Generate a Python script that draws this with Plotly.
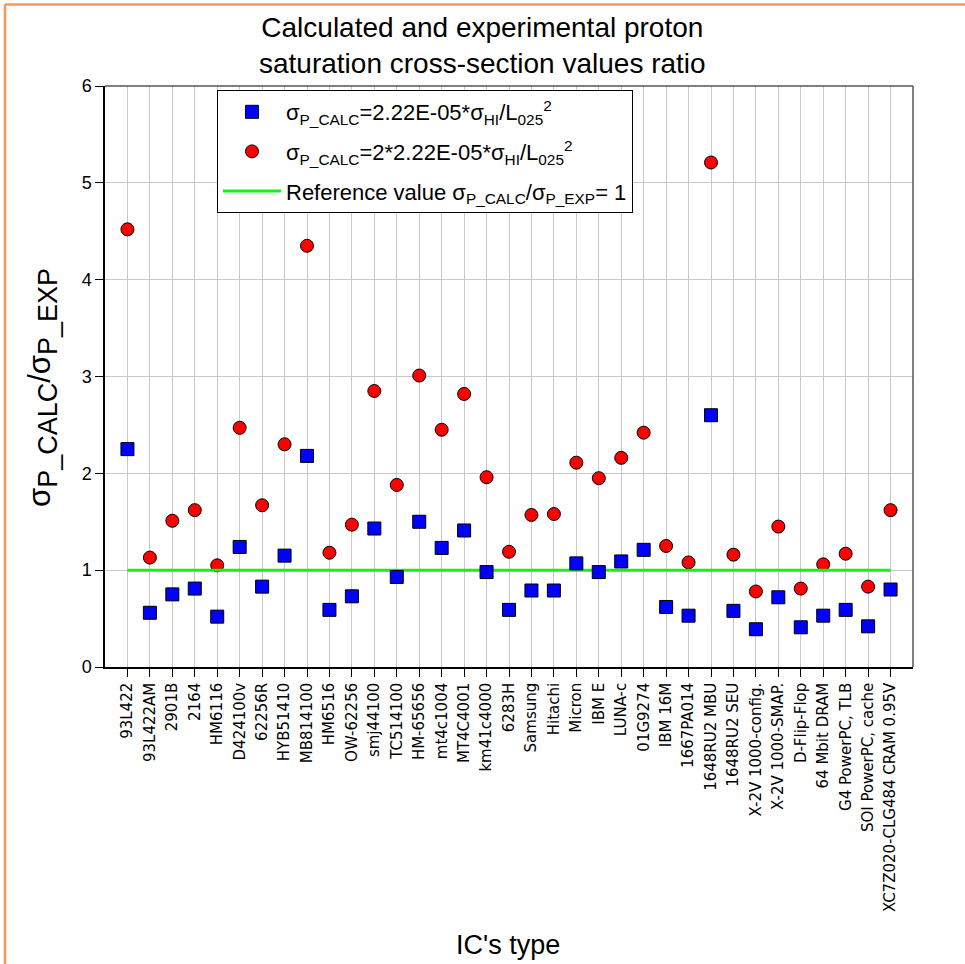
import plotly.graph_objects as go

categories = ["93L422", "93L422AM", "2901B", "2164", "HM6116", "D424100v", "62256R",
              "HYB51410", "MB814100", "HM6516", "OW-62256", "smj44100", "TC514100",
              "HM-65656", "mt4c1004", "MT4C4001", "km41c4000", "6283H", "Samsung",
              "Hitachi", "Micron", "IBM E", "LUNA-c", "01G9274", "IBM 16M", "1667PA014",
              "1648RU2 MBU", "1648RU2 SEU", "X-2V 1000-config.", "X-2V 1000-SMAP.",
              "D-Flip-Flop", "64 Mbit DRAM", "G4 PowerPC, TLB", "SOI PowerPC, cache",
              "XC7Z020-CLG484 CRAM 0.95V"]

ratio_1x = [2.25, 0.56, 0.75, 0.81, 0.52, 1.24, 0.83, 1.15, 2.18, 0.59, 0.73, 1.43,
            0.93, 1.50, 1.23, 1.41, 0.98, 0.59, 0.79, 0.79, 1.07, 0.98, 1.09, 1.21,
            0.62, 0.53, 2.60, 0.58, 0.39, 0.72, 0.41, 0.53, 0.59, 0.42, 0.80]

ratio_2x = [4.52, 1.13, 1.51, 1.62, 1.05, 2.47, 1.67, 2.30, 4.35, 1.18, 1.47, 2.85,
            1.88, 3.01, 2.45, 2.82, 1.96, 1.19, 1.57, 1.58, 2.11, 1.95, 2.16, 2.42,
            1.25, 1.08, 5.21, 1.16, 0.78, 1.45, 0.81, 1.06, 1.17, 0.83, 1.62]

reference_value = 1

idx = list(range(len(categories)))
FONT = "Liberation Sans, Arial, sans-serif"

fig = go.Figure()

fig.add_trace(go.Scatter(
    x=idx, y=ratio_2x, mode="markers", legendrank=2, legendgroup="g2",
    name="σ<sub>P_CALC</sub>=2*2.22E-05*σ<sub>HI</sub>/L<sub>025</sub><sup>2</sup>",
    marker=dict(symbol="circle", size=13, color="#FF0000",
                line=dict(color="#000000", width=1)),
))
fig.add_trace(go.Scatter(
    x=[idx[0], idx[-1]], y=[reference_value, reference_value], mode="lines",
    legendrank=3, legendgroup="g3",
    name="Reference value σ<sub>P_CALC</sub>/σ<sub>P_EXP</sub>= 1",
    line=dict(color="#17F017", width=3),
))
fig.add_trace(go.Scatter(
    x=idx, y=ratio_1x, mode="markers", legendrank=1, legendgroup="g1",
    name="σ<sub>P_CALC</sub>=2.22E-05*σ<sub>HI</sub>/L<sub>025</sub><sup>2</sup>",
    marker=dict(symbol="square", size=13, color="#0000FF",
                line=dict(color="#000000", width=1)),
))

W, H = 965, 964
L, R, T, B = 105, 913, 86, 667


def px_x(px):
    return (px - L) / (R - L)


def px_y(py):
    return (B - py) / (B - T)


fig.update_layout(
    width=W, height=H,
    margin=dict(l=L, r=W - R, t=T, b=H - B),
    paper_bgcolor="white", plot_bgcolor="white",
    font=dict(family=FONT, color="#000000"),
    showlegend=True,
    legend=dict(x=px_x(217), y=px_y(90), xanchor="left", yanchor="top",
                bgcolor="white", bordercolor="#000000", borderwidth=1,
                font=dict(size=22, family=FONT), tracegroupgap=8, itemwidth=58),
    xaxis=dict(range=[-1, 35], tickmode="array", tickvals=idx, ticktext=categories,
               tickangle=-90, tickfont=dict(size=15, family="DejaVu Sans"),
               showgrid=True, gridcolor="#C8C8C8", gridwidth=1,
               ticks="outside", ticklen=8, tickcolor="#000000",
               showline=True, linecolor="#000000", linewidth=1.5, mirror=False,
               zeroline=False),
    yaxis=dict(range=[0, 6], tickmode="array", tickvals=[0, 1, 2, 3, 4, 5, 6],
               tickfont=dict(size=18, family=FONT),
               showgrid=True, gridcolor="#C8C8C8", gridwidth=1,
               ticks="outside", ticklen=8, tickcolor="#000000",
               showline=True, linecolor="#000000", linewidth=1.5, mirror=False,
               zeroline=False),
    annotations=[
        dict(text="Calculated and experimental proton<br>saturation cross-section values ratio",
             xref="paper", yref="paper", x=px_x(482), y=px_y(46),
             xanchor="center", yanchor="middle", showarrow=False,
             font=dict(size=28, family=FONT)),
        dict(text=('σ<sub><span style="font-size:27px">P_CALC</span></sub>'
                   '/σ<sub><span style="font-size:27px">P_EXP</span></sub>'),
             textangle=-90,
             xref="paper", yref="paper", x=px_x(42), y=px_y(388),
             xanchor="center", yanchor="middle", showarrow=False,
             font=dict(size=31, family=FONT)),
        dict(text="IC's type", xref="paper", yref="paper",
             x=px_x(508), y=px_y(945), xanchor="center", yanchor="middle",
             showarrow=False, font=dict(size=27, family=FONT)),
    ],
    shapes=[
        dict(type="line", xref="paper", yref="paper", x0=0, x1=1, y0=1, y1=1,
             line=dict(color="#555555", width=1.5)),
        dict(type="line", xref="paper", yref="paper", x0=1, x1=1, y0=0, y1=1,
             line=dict(color="#555555", width=1.5)),
        dict(type="line", xref="paper", yref="paper",
             x0=px_x(5), x1=px_x(5), y0=px_y(964), y1=px_y(4.5),
             line=dict(color="#F7955A", width=2.5)),
        dict(type="line", xref="paper", yref="paper",
             x0=px_x(5), x1=px_x(965), y0=px_y(4.5), y1=px_y(4.5),
             line=dict(color="#F7955A", width=2.5)),
    ],
)

fig.write_html("out.html")
